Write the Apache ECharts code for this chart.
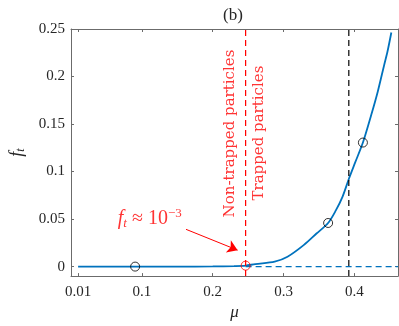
<!DOCTYPE html>
<html>
<head>
<meta charset="utf-8">
<script src="https://cdn.jsdelivr.net/npm/echarts@6/dist/echarts.min.js"></script>
<style>
  html, body { margin: 0; padding: 0; background: #fff; }
  #main { width: 399px; height: 326px; }
</style>
</head>
<body>
<div id="main"></div>
<script>
// f_t against mu
var muValues = [0.01, 0.05, 0.1, 0.15, 0.2, 0.23, 0.2464, 0.26, 0.2874, 0.3055, 0.3283,
  0.3464, 0.3628, 0.3737, 0.3829, 0.392, 0.401, 0.4119, 0.4238, 0.4329, 0.4419, 0.4465, 0.452];
var ftValues = [0, 0, 0, 0, 0.0002, 0.0005, 0.001, 0.0027, 0.0052, 0.0104, 0.0226,
  0.0348, 0.0459, 0.0591, 0.0731, 0.0922, 0.1096, 0.1305, 0.160, 0.1843, 0.2122, 0.226, 0.2463];

// marked points
var blackMarks = [[0.0905, 0], [0.3628, 0.0459], [0.4119, 0.1305]];
var redMark = [[0.2464, 0.001]];

var trapBoundary = 0.2464;   // red dashed line
var blackLineMu = 0.392;     // black dashed line

var xTicks = [0.01, 0.1, 0.2, 0.3, 0.4];
var yTicks = [0, 0.05, 0.1, 0.15, 0.2, 0.25];
var xMin = 0, xMax = 0.4614, yMin = -0.01, yMax = 0.25;

var serif = '"Liberation Serif", "DejaVu Serif", serif';
var wideSerif = '"DejaVu Serif", serif';
var axisColor = '#6b6b6b';
var textColor = '#262626';

var myChart = echarts.init(document.getElementById('main'));

var curve = muValues.map(function (m, i) { return [m, ftValues[i]]; });

function boxAxis(extra) {
  return Object.assign({
    type: 'value',
    axisLine: { show: true, onZero: false, lineStyle: { color: axisColor, width: 1 } },
    axisTick: { show: true, inside: true, length: 3, lineStyle: { color: axisColor } },
    splitLine: { show: false },
    axisLabel: { show: false }
  }, extra);
}

var option = {
  animation: false,
  backgroundColor: '#fff',
  title: {
    text: '(b)',
    left: 228, top: 2,
    textAlign: 'center',
    textStyle: { fontFamily: serif, fontSize: 17, fontWeight: 'normal', color: textColor }
  },
  grid: { left: 60, right: 1, top: 29, bottom: 48 },
  xAxis: [
    boxAxis({
      min: xMin, max: xMax,
      name: 'μ', nameLocation: 'middle', nameGap: 26,
      nameTextStyle: { fontFamily: serif, fontStyle: 'italic', fontSize: 17, color: textColor },
      axisTick: { show: true, inside: true, length: 3, customValues: xTicks, lineStyle: { color: axisColor } },
      axisLabel: {
        show: true, customValues: xTicks, margin: 8,
        fontFamily: serif, fontSize: 15, color: textColor,
        formatter: function (v) { return String(v); }
      }
    }),
    boxAxis({
      min: xMin, max: xMax, position: 'top',
      axisTick: { show: true, inside: true, length: 3, customValues: xTicks, lineStyle: { color: axisColor } }
    })
  ],
  yAxis: [
    boxAxis({
      min: yMin, max: yMax,
      name: '{i|f}{s|t}', nameLocation: 'middle', nameGap: 44, nameRotate: 90,
      nameTextStyle: {
        rich: {
          i: { fontFamily: serif, fontStyle: 'italic', fontSize: 18, color: textColor },
          s: { fontFamily: serif, fontStyle: 'italic', fontSize: 12, color: textColor, padding: [8, 0, 0, 0] }
        }
      },
      axisTick: { show: true, inside: true, length: 3, customValues: yTicks, lineStyle: { color: axisColor } },
      axisLabel: {
        show: true, customValues: yTicks, margin: 6,
        fontFamily: serif, fontSize: 15, color: textColor,
        formatter: function (v) { return String(v); }
      }
    }),
    boxAxis({
      min: yMin, max: yMax, position: 'right',
      axisTick: { show: true, inside: true, length: 3, customValues: yTicks, lineStyle: { color: axisColor } }
    })
  ],
  series: [
    {
      name: 'zero line',
      type: 'line',
      data: [[trapBoundary, 0], [xMax, 0]],
      symbol: 'none', silent: true,
      lineStyle: { color: '#0072BD', width: 1.2, type: [6, 4] }
    },
    {
      name: 'ft',
      type: 'line',
      data: curve,
      symbol: 'none', smooth: 0.3,
      lineStyle: { color: '#0072BD', width: 1.8 },
      z: 3
    },
    {
      name: 'red boundary',
      type: 'line',
      data: [[trapBoundary, yMin], [trapBoundary, yMax]],
      symbol: 'none', silent: true,
      lineStyle: { color: '#ff0000', width: 1.2, type: [6, 4] }
    },
    {
      name: 'black boundary',
      type: 'line',
      data: [[blackLineMu, yMin], [blackLineMu, yMax]],
      symbol: 'none', silent: true,
      lineStyle: { color: '#000', width: 1.2, type: [6, 4] }
    },
    {
      name: 'marks',
      type: 'scatter',
      data: blackMarks,
      symbol: 'circle', symbolSize: 9,
      itemStyle: { color: 'rgba(0,0,0,0)', borderColor: '#000', borderWidth: 1 },
      z: 5
    },
    {
      name: 'red mark',
      type: 'scatter',
      data: redMark,
      symbol: 'circle', symbolSize: 9,
      itemStyle: { color: 'rgba(0,0,0,0)', borderColor: '#ff0000', borderWidth: 1 },
      z: 5,
      markLine: {
        silent: true,
        symbol: ['none', 'arrow'], symbolSize: 10,
        label: { show: false },
        lineStyle: { color: '#ff0000', width: 1, type: 'solid' },
        emphasis: { disabled: true },
        data: [[{ coord: [0.1623, 0.0392] }, { coord: [0.2351, 0.0173] }]]
      }
    },
    {
      name: 'annotations',
      type: 'scatter',
      silent: true,
      symbolSize: 0,
      data: [
        { value: [0.2245, 0.140], label: { formatter: 'Non-trapped particles' } },
        { value: [0.266, 0.1405], label: { formatter: 'Trapped particles' } }
      ],
      label: {
        show: true, position: 'inside', rotate: 90,
        fontFamily: wideSerif, fontSize: 15, color: '#ff0000'
      },
      z: 6
    },
    {
      name: 'approx',
      type: 'scatter',
      silent: true,
      symbolSize: 0,
      data: [[0.066, 0.0504]],
      label: {
        show: true, position: 'right', distance: 0,
        formatter: '{i|f}{s|t}{n| ≈ 10}{p|−3}',
        rich: {
          i: { fontFamily: serif, fontStyle: 'italic', fontSize: 20, color: '#ff0000' },
          s: { fontFamily: serif, fontStyle: 'italic', fontSize: 13, color: '#ff0000', padding: [9, 0, 0, 0] },
          n: { fontFamily: serif, fontSize: 20, color: '#ff0000' },
          p: { fontFamily: serif, fontSize: 13, color: '#ff0000', padding: [0, 0, 10, 0] }
        }
      },
      z: 6
    }
  ]
};

myChart.setOption(option);
</script>
</body>
</html>
